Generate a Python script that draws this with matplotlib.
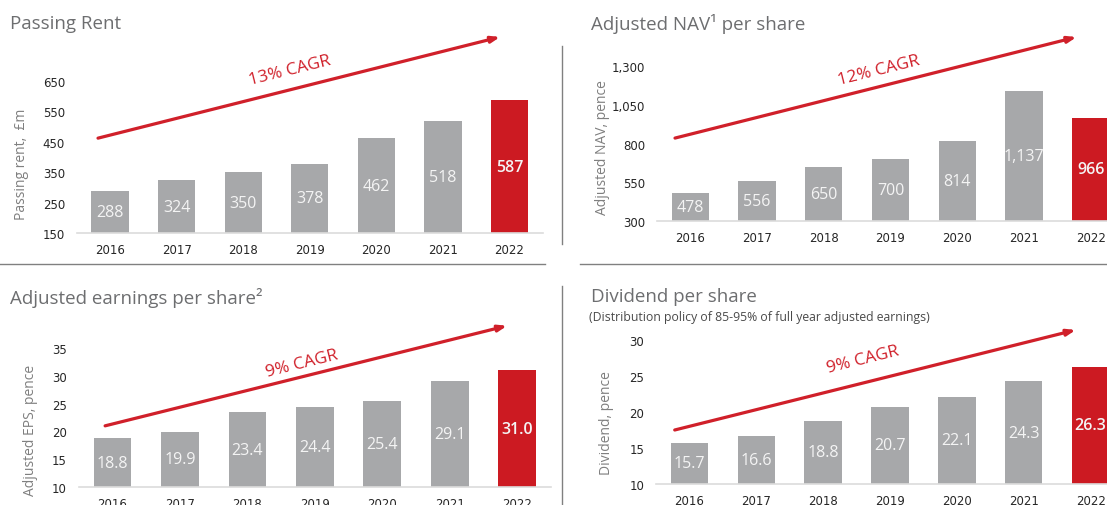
import matplotlib
matplotlib.use("Agg")
import matplotlib.pyplot as plt
from matplotlib.lines import Line2D

W, H = 1107, 506

years = ["2016", "2017", "2018", "2019", "2020", "2021", "2022"]

rent = [288, 324, 350, 378, 462, 518, 587]
nav = [478, 556, 650, 700, 814, 1137, 966]
eps = [18.8, 19.9, 23.4, 24.4, 25.4, 29.1, 31.0]
dps = [15.7, 16.6, 18.8, 20.7, 22.1, 24.3, 26.3]

rent_labels = ["288", "324", "350", "378", "462", "518", "587"]
nav_labels = ["478", "556", "650", "700", "814", "1,137", "966"]
eps_labels = ["18.8", "19.9", "23.4", "24.4", "25.4", "29.1", "31.0"]
dps_labels = ["15.7", "16.6", "18.8", "20.7", "22.1", "24.3", "26.3"]

rent_ticks = [150, 250, 350, 450, 550, 650]
nav_ticks = [300, 550, 800, 1050, 1300]
eps_ticks = [10, 15, 20, 25, 30, 35]
dps_ticks = [10, 15, 20, 25, 30]

GREY = "#a7a8aa"
RED = "#cc1a22"
TITLE_C = "#6d6e70"
TEXT_FONT = ["Open Sans", "DejaVu Sans"]


def px_axes(fig, left, right, top, bottom):
    # axes box given in pixels from the top-left corner
    return fig.add_axes([left / W, 1 - bottom / H, (right - left) / W, (bottom - top) / H])


def draw_panel(ax, values, labels, ticks, tick_fmt, arrow, cagr, cagr_xy):
    x = list(range(len(values)))
    colors = [GREY] * (len(values) - 1) + [RED]
    ax.bar(x, values, width=0.56, color=colors, zorder=2)
    lo, hi = ticks[0], ticks[-1]
    for xi, v, lab, c in zip(x, values, labels, colors):
        ax.text(xi, (lo + v) / 2, lab, ha="center", va="center", color="#f4f4f4",
                fontsize=11.5, family=TEXT_FONT,
                fontweight="semibold" if c == RED else "normal")
    ax.set_xlim(-0.5, len(values) - 0.5)
    ax.set_ylim(lo, hi)
    ax.set_xticks(x)
    ax.set_xticklabels(years)
    ax.set_yticks(ticks)
    ax.set_yticklabels([tick_fmt(t) for t in ticks])
    ax.tick_params(length=0, labelsize=8.5, colors="#262626")
    ax.tick_params(axis="y", pad=8.5)
    ax.tick_params(axis="x", pad=7)
    for s in ["top", "right", "left"]:
        ax.spines[s].set_visible(False)
    ax.spines["bottom"].set_color("#dcdcdc")
    ax.spines["bottom"].set_linewidth(1.2)
    ax.patch.set_alpha(0)
    (x0, y0), (x1, y1) = arrow
    ax.annotate("", xy=(x1, y1), xytext=(x0, y0), annotation_clip=False,
                arrowprops=dict(arrowstyle="-|>,head_length=0.5,head_width=0.18",
                                color="#d0202a", lw=2.3, shrinkA=0, shrinkB=0))
    ax.text(cagr_xy[0], cagr_xy[1], cagr, color="#d0202a", fontsize=12.5,
            family=TEXT_FONT, rotation=14, rotation_mode="anchor",
            ha="center", va="center", clip_on=False)


fig = plt.figure(figsize=(W / 100, H / 100), dpi=100)

ax1 = px_axes(fig, 76.7, 542.8, 82, 234)
draw_panel(ax1, rent, rent_labels, rent_ticks, lambda t: f"{t:,}",
           ((-0.18, 462), (5.86, 795)), "13% CAGR", (2.7, 685))

ax2 = px_axes(fig, 657, 1124, 67, 222)
draw_panel(ax2, nav, nav_labels, nav_ticks, lambda t: f"{t:,}",
           ((-0.23, 835), (5.79, 1487)), "12% CAGR", (2.83, 1275))

ax3 = px_axes(fig, 78.8, 551, 349, 488)
draw_panel(ax3, eps, eps_labels, eps_ticks, lambda t: f"{t}",
           ((-0.11, 21), (5.85, 39)), "9% CAGR", (2.8, 32.3))

ax4 = px_axes(fig, 656, 1124, 341, 485)
draw_panel(ax4, dps, dps_labels, dps_ticks, lambda t: f"{t}",
           ((-0.22, 17.5), (5.78, 31.4)), "9% CAGR", (2.6, 27.3))

# titles
def ftext(xp, yp, s, **kw):
    fig.text(xp / W, 1 - yp / H, s, family=TEXT_FONT, **kw)

ftext(10, 24, "Passing Rent", fontsize=13.5, color=TITLE_C, va="center")
ftext(591, 24, "Adjusted NAV\u00b9 per share", fontsize=13.5, color=TITLE_C, va="center")
ftext(10, 298, "Adjusted earnings per share\u00b2", fontsize=13.5, color=TITLE_C, va="center")
ftext(591, 297, "Dividend per share", fontsize=13.5, color=TITLE_C, va="center")
ftext(589, 318, "(Distribution policy of 85-95% of full year adjusted earnings)",
      fontsize=8.8, color="#4a4a4a", va="center")

# axis titles
ftext(22, 164, "Passing rent,  \u00a3m", fontsize=10, color="#7f7f7f", rotation=90, ha="center", va="center")
ftext(602, 148, "Adjusted NAV, pence", fontsize=10, color="#7f7f7f", rotation=90, ha="center", va="center")
ftext(30, 430, "Adjusted EPS, pence", fontsize=10, color="#7f7f7f", rotation=90, ha="center", va="center")
ftext(607, 423, "Dividend, pence", fontsize=10, color="#7f7f7f", rotation=90, ha="center", va="center")

# divider lines
for xs, ys in [((0, 545), (265, 265)), ((580, W), (265, 265)),
               ((562, 562), (47, 245)), ((562, 562), (287, H))]:
    fig.add_artist(Line2D([xs[0] / W, xs[1] / W], [1 - ys[0] / H, 1 - ys[1] / H],
                          color="#808080", lw=1, transform=fig.transFigure))

fig.savefig("out.png", dpi=100)
